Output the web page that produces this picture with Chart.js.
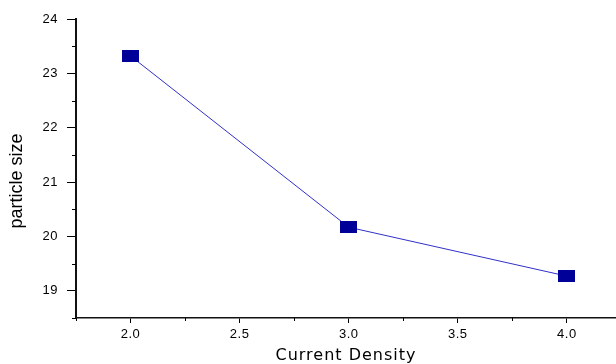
<!DOCTYPE html>
<html>
<head>
<meta charset="utf-8">
<script src="https://cdn.jsdelivr.net/npm/chart.js@4/dist/chart.umd.min.js"></script>
<style>
  html, body { margin: 0; padding: 0; background: #fff; }
  #wrap { width: 616px; height: 364px; position: relative; }
</style>
</head>
<body>
<div id="wrap"><canvas id="c"></canvas></div>
<script>
// ---- data ----
const currentDensity = [2.0, 3.0, 4.0];
const particleSize = [23.32, 20.17, 19.27];
const xTickValues = [1.75, 2.0, 2.25, 2.5, 2.75, 3.0, 3.25, 3.5, 3.75, 4.0];
const xMajorTicks = [2.0, 2.5, 3.0, 3.5, 4.0];
const yTickValues = [18.5, 19, 19.5, 20, 20.5, 21, 21.5, 22, 22.5, 23, 23.5, 24];
const yMajorTicks = [19, 20, 21, 22, 23, 24];
const xTitle = 'Current Density';
const yTitle = 'particle size';

const isMajor = (arr, v) => arr.some(m => Math.abs(m - v) < 1e-9);

// rectangular marker image
const marker = document.createElement('canvas');
marker.width = 17; marker.height = 12;
(function () {
  const g = marker.getContext('2d');
  g.fillStyle = '#000099';
  g.fillRect(0, 0, 17, 12);
})();

function widenText(scale, titleSpacing, tickSpacing) {
  if (scale._widened) return;
  scale._widened = true;
  const origTitle = scale.drawTitle;
  scale.drawTitle = function () {
    const ctx = this.ctx;
    const old = ctx.letterSpacing;
    ctx.letterSpacing = titleSpacing;
    origTitle.apply(this, arguments);
    ctx.letterSpacing = old;
  };
  const origLabels = scale.drawLabels;
  scale.drawLabels = function () {
    const ctx = this.ctx;
    const old = ctx.letterSpacing;
    ctx.letterSpacing = tickSpacing;
    origLabels.apply(this, arguments);
    ctx.letterSpacing = old;
  };
}

const minorTicks = {
  id: 'minorTicks',
  afterDraw(chart) {
    const ctx = chart.ctx;
    const xs = chart.scales.x, ys = chart.scales.y;
    ctx.save();
    ctx.strokeStyle = '#000';
    ctx.lineWidth = 1;
    ctx.beginPath();
    xTickValues.filter(v => !isMajor(xMajorTicks, v)).forEach(v => {
      const px = Math.round(xs.getPixelForValue(v)) + 0.5;
      ctx.moveTo(px, xs.top);
      ctx.lineTo(px, xs.top + 3);
    });
    yTickValues.filter(v => !isMajor(yMajorTicks, v)).forEach(v => {
      const py = Math.round(ys.getPixelForValue(v)) + 0.5;
      ctx.moveTo(ys.right - 4, py);
      ctx.lineTo(ys.right, py);
    });
    ctx.stroke();
    ctx.restore();
  }
};

new Chart(document.getElementById('c'), {
  type: 'line',
  data: {
    datasets: [{
      data: currentDensity.map((x, i) => ({ x: x, y: particleSize[i] })),
      borderColor: '#3030c8',
      borderWidth: 1,
      pointStyle: marker,
      pointRadius: 8,
      pointHoverRadius: 8,
      tension: 0,
      fill: false,
      clip: false
    }]
  },
  plugins: [minorTicks],
  options: {
    responsive: true,
    maintainAspectRatio: false,
    animation: false,
    events: [],
    layout: { autoPadding: false, padding: { top: 19, right: 0, left: 0, bottom: 0 } },
    plugins: { legend: { display: false }, tooltip: { enabled: false } },
    scales: {
      x: {
        type: 'linear',
        min: 1.75,
        max: 4.225,
        afterBuildTicks: s => { s.ticks = xTickValues.map(v => ({ value: v })); },
        afterFit: s => {
          s.height = 46; s.paddingLeft = 0; s.paddingRight = 0;
          widenText(s, '1px', '0.5px');
        },
        grid: {
          drawOnChartArea: false,
          tickLength: 5,
          tickColor: c => isMajor(xMajorTicks, c.tick.value) ? '#000' : 'rgba(0,0,0,0)'
        },
        border: { display: true, color: '#111', width: 1.5 },
        ticks: {
          color: '#000',
          padding: 4,
          maxRotation: 0,
          autoSkip: false,
          font: { family: 'Liberation Sans, Arial, sans-serif', size: 13 },
          callback: v => isMajor(xMajorTicks, v) ? v.toFixed(1) : ''
        },
        title: {
          display: true,
          text: xTitle,
          color: '#000',
          padding: 0,
          font: { family: 'DejaVu Sans, sans-serif', size: 16, lineHeight: 1 }
        }
      },
      y: {
        type: 'linear',
        min: 18.5,
        max: 24,
        afterBuildTicks: s => { s.ticks = yTickValues.map(v => ({ value: v })); },
        afterFit: s => {
          s.width = 76; s.paddingTop = 0; s.paddingBottom = 0;
          widenText(s, '0px', '0.5px');
        },
        grid: {
          drawOnChartArea: false,
          tickLength: 9,
          tickColor: c => isMajor(yMajorTicks, c.tick.value) ? '#000' : 'rgba(0,0,0,0)'
        },
        border: { display: true, color: '#111', width: 2 },
        ticks: {
          color: '#000',
          padding: 9,
          autoSkip: false,
          font: { family: 'Liberation Sans, Arial, sans-serif', size: 13 },
          callback: v => isMajor(yMajorTicks, v) ? String(Math.round(v)) : ''
        },
        title: {
          display: true,
          text: yTitle + '\u00a0\u00a0\u00a0\u00a0\u00a0',
          color: '#000',
          padding: { top: 8, bottom: 0 },
          font: { family: 'Liberation Sans, Arial, sans-serif', size: 18, lineHeight: 1 }
        }
      }
    }
  }
});
</script>
</body>
</html>
